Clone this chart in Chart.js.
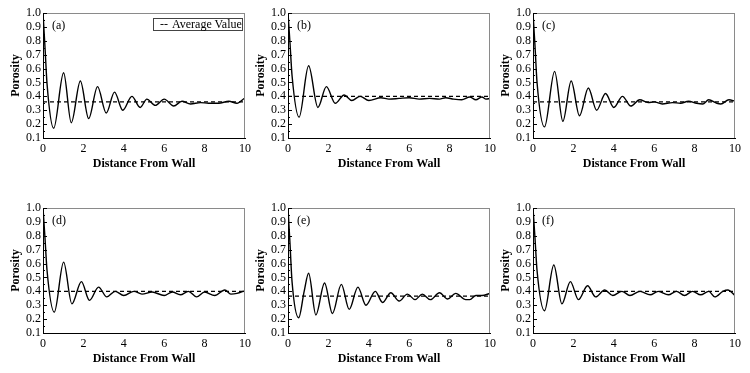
<!DOCTYPE html>
<html lang="en">
<head>
    <meta charset="UTF-8">
    <title>Porosity vs Distance From Wall</title>
    <script src="https://cdn.jsdelivr.net/npm/chart.js"></script>
    <style>
        body {
            margin: 0;
            background: #fff;
        }
        #page {
            position: relative;
            width: 750px;
            height: 373px;
            overflow: hidden;
        }
        .panel {
            position: absolute;
        }
        /* legend box, only in panel (a) */
        #legendBox {
            position: absolute;
            left: 153px;
            top: 18px;
            width: 88px;
            height: 11px;
            border: 1px solid #444;
            background: #fff;
            font-family: "Liberation Serif", serif;
            font-size: 12px;
            line-height: 11px;
            white-space: nowrap;
            color: #000;
        }
        #legendBox span {
            display: inline-block;
            width: 16px;
            text-align: center;
            margin-left: 2px;
        }
    </style>
</head>
<body>
<div id="page">
    <canvas id="pa" class="panel"></canvas>
    <canvas id="pb" class="panel"></canvas>
    <canvas id="pc" class="panel"></canvas>
    <canvas id="pd" class="panel"></canvas>
    <canvas id="pe" class="panel"></canvas>
    <canvas id="pf" class="panel"></canvas>
    <div id="legendBox"><span>--</span>Average Value</div>
</div>
<script>
    // axis ticks
    const xTicks = [0, 2, 4, 6, 8, 10];
    const yTicks = [0.1, 0.2, 0.3, 0.4, 0.5, 0.6, 0.7, 0.8, 0.9, 1.0];
    const panelLabels = ['(a)', '(b)', '(c)', '(d)', '(e)', '(f)'];
    const averages = [0.36, 0.40, 0.36, 0.40, 0.365, 0.40];

    // (a)
    const distA = [0, 0.1, 0.2, 0.53, 1.02, 1.4, 1.85, 2.26, 2.7, 3.13, 3.54, 3.95, 4.4, 4.81, 5.14, 5.56, 6.0, 6.47, 6.88, 7.3, 7.8, 8.2, 8.7, 9.2, 9.6, 10];
    const poroA = [1.0, 0.75, 0.49, 0.17, 0.57, 0.21, 0.51, 0.24, 0.47, 0.28, 0.43, 0.30, 0.40, 0.32, 0.38, 0.335, 0.38, 0.33, 0.365, 0.345, 0.355, 0.35, 0.35, 0.365, 0.35, 0.39];
    // (b)
    const distB = [0, 0.1, 0.2, 0.55, 1.02, 1.48, 1.9, 2.34, 2.78, 3.16, 3.57, 4.0, 4.6, 5.0, 5.5, 6.0, 6.5, 7.0, 7.5, 7.8, 8.2, 8.6, 9.0, 9.3, 9.6, 9.8, 10];
    const poroB = [1.0, 0.78, 0.55, 0.25, 0.62, 0.32, 0.47, 0.35, 0.41, 0.37, 0.40, 0.37, 0.39, 0.38, 0.385, 0.39, 0.38, 0.385, 0.38, 0.39, 0.38, 0.375, 0.395, 0.375, 0.395, 0.38, 0.385];
    // (c)
    const distC = [0, 0.1, 0.2, 0.57, 1.07, 1.48, 1.89, 2.3, 2.74, 3.15, 3.59, 4.0, 4.43, 4.84, 5.28, 5.7, 6.0, 6.4, 6.9, 7.3, 7.7, 8.1, 8.4, 8.7, 9.1, 9.3, 9.7, 10];
    const poroC = [1.0, 0.76, 0.5, 0.18, 0.58, 0.22, 0.51, 0.26, 0.46, 0.30, 0.42, 0.32, 0.40, 0.33, 0.375, 0.355, 0.36, 0.345, 0.355, 0.35, 0.365, 0.35, 0.345, 0.375, 0.35, 0.345, 0.375, 0.365];
    // (d)
    const distD = [0, 0.1, 0.2, 0.56, 1.02, 1.43, 1.9, 2.3, 2.75, 3.16, 3.57, 4.0, 4.5, 4.9, 5.4, 6.0, 6.4, 6.8, 7.2, 7.6, 8.0, 8.5, 9.0, 9.3, 9.6, 10];
    const poroD = [1.0, 0.78, 0.55, 0.25, 0.61, 0.31, 0.47, 0.335, 0.43, 0.36, 0.40, 0.37, 0.40, 0.38, 0.395, 0.37, 0.395, 0.375, 0.40, 0.36, 0.395, 0.37, 0.41, 0.38, 0.385, 0.405];
    // (e)
    const distE = [0, 0.1, 0.2, 0.53, 0.8, 1.02, 1.38, 1.81, 2.2, 2.64, 3.03, 3.46, 3.86, 4.32, 4.68, 5.09, 5.5, 5.91, 6.29, 6.65, 7.05, 7.5, 7.9, 8.3, 8.8, 9.0, 9.3, 9.6, 10];
    const poroE = [1.0, 0.74, 0.47, 0.21, 0.40, 0.53, 0.23, 0.46, 0.24, 0.45, 0.27, 0.43, 0.30, 0.40, 0.32, 0.39, 0.33, 0.38, 0.34, 0.38, 0.34, 0.39, 0.345, 0.385, 0.34, 0.34, 0.37, 0.37, 0.385];
    // (f)
    const distF = [0, 0.1, 0.2, 0.57, 1.03, 1.43, 1.85, 2.25, 2.7, 3.1, 3.55, 3.95, 4.4, 4.8, 5.3, 5.8, 6.2, 6.7, 7.1, 7.5, 7.9, 8.3, 8.7, 9.0, 9.4, 9.65, 10];
    const poroF = [1.0, 0.78, 0.55, 0.26, 0.59, 0.31, 0.47, 0.34, 0.44, 0.36, 0.41, 0.37, 0.40, 0.37, 0.40, 0.375, 0.40, 0.375, 0.40, 0.37, 0.40, 0.375, 0.40, 0.36, 0.40, 0.41, 0.37];

    const allDist = [distA, distB, distC, distD, distE, distF];
    const allPoro = [poroA, poroB, poroC, poroD, poroE, poroF];
    const ids = ['pa', 'pb', 'pc', 'pd', 'pe', 'pf'];

    // layout
    const colLeft = [0, 245, 490];
    const rowTop = [0, 195];
    const yAxisW = 43, plotW = 202, plotH = 125, padTop = 13, padRight = 10, xAxisH = 34;

    const serif = '"Liberation Serif", "Times New Roman", serif';

    // draws the grey top/right frame, inward y ticks and the panel letter
    const framePlugin = {
        id: 'frame',
        afterDatasetsDraw(chart, args, opts) {
            const { ctx, chartArea: a, scales } = chart;
            ctx.save();
            ctx.strokeStyle = '#8a8a8a';
            ctx.lineWidth = 1;
            ctx.beginPath();
            ctx.moveTo(a.left, a.top + 0.5);
            ctx.lineTo(a.right, a.top + 0.5);
            ctx.moveTo(a.right - 0.5, a.top);
            ctx.lineTo(a.right - 0.5, a.bottom);
            ctx.stroke();

            ctx.strokeStyle = '#000';
            ctx.beginPath();
            const yt = scales.y.ticks;
            for (let i = 0; i < yt.length; i++) {
                const py = Math.round(scales.y.getPixelForValue(yt[i].value)) + 0.5;
                ctx.moveTo(a.left, py);
                ctx.lineTo(a.left + 4, py);
                if (i < yt.length - 1) {
                    const my = Math.round(scales.y.getPixelForValue((yt[i].value + yt[i + 1].value) / 2)) + 0.5;
                    ctx.moveTo(a.left, my);
                    ctx.lineTo(a.left + 2, my);
                }
            }
            ctx.stroke();

            ctx.fillStyle = '#000';
            ctx.font = '12px ' + serif;
            ctx.textBaseline = 'middle';
            ctx.fillText(opts.label, a.left + 9, a.top + 13);
            ctx.restore();
        }
    };

    for (let i = 0; i < 6; i++) {
        const canvas = document.getElementById(ids[i]);
        const w = yAxisW + plotW + padRight;
        const h = padTop + plotH + xAxisH;
        canvas.width = w;
        canvas.height = h;
        canvas.style.width = w + 'px';
        canvas.style.height = h + 'px';
        canvas.style.left = colLeft[i % 3] + 'px';
        canvas.style.top = rowTop[Math.floor(i / 3)] + 'px';

        const curve = allDist[i].map((d, k) => ({ x: d, y: allPoro[i][k] }));
        const avgLine = [{ x: 0, y: averages[i] }, { x: 10, y: averages[i] }];

        new Chart(canvas.getContext('2d'), {
            type: 'line',
            data: {
                datasets: [{
                    label: 'Porosity',
                    data: curve,
                    borderColor: '#000',
                    borderWidth: 1.4,
                    pointRadius: 0,
                    cubicInterpolationMode: 'monotone',
                    fill: false
                }, {
                    label: 'Average Value',
                    data: avgLine,
                    borderColor: '#000',
                    borderWidth: 1.2,
                    borderDash: [4, 3],
                    pointRadius: 0,
                    fill: false
                }]
            },
            options: {
                responsive: false,
                animation: false,
                events: [],
                layout: { padding: { top: padTop, right: padRight, left: 0, bottom: 0 } },
                plugins: {
                    legend: { display: false },
                    tooltip: { enabled: false },
                    frame: { label: panelLabels[i] }
                },
                scales: {
                    x: {
                        type: 'linear',
                        min: 0,
                        max: 10,
                        afterBuildTicks: s => { s.ticks = xTicks.map(v => ({ value: v })); },
                        afterFit: s => { s.height = xAxisH; },
                        grid: { drawOnChartArea: false, drawTicks: false },
                        border: { color: '#000', width: 1 },
                        ticks: {
                            padding: 4,
                            color: '#000',
                            maxRotation: 0,
                            font: { family: serif, size: 12 }
                        },
                        title: {
                            display: true,
                            text: 'Distance From Wall',
                            color: '#000',
                            padding: { top: 0, bottom: 1 },
                            font: { family: serif, size: 12, weight: 'bold' }
                        }
                    },
                    y: {
                        min: 0.1,
                        max: 1.0,
                        afterBuildTicks: s => { s.ticks = yTicks.map(v => ({ value: v })); },
                        afterFit: s => { s.width = yAxisW; },
                        grid: { drawOnChartArea: false, drawTicks: false },
                        border: { color: '#000', width: 1 },
                        ticks: {
                            padding: 2,
                            color: '#000',
                            autoSkip: false,
                            font: { family: serif, size: 12 },
                            callback: v => v.toFixed(1)
                        },
                        title: {
                            display: true,
                            text: 'Porosity',
                            color: '#000',
                            padding: { top: 9, bottom: 0 },
                            font: { family: serif, size: 12, weight: 'bold' }
                        }
                    }
                }
            },
            plugins: [framePlugin]
        });
    }
</script>
</body>
</html>
